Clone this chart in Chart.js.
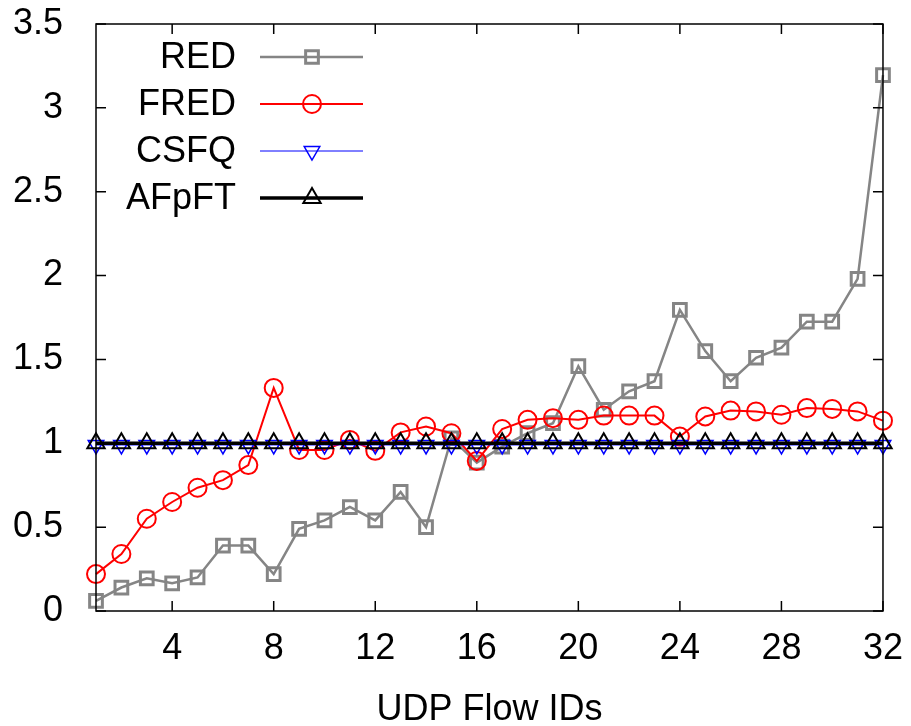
<!DOCTYPE html>
<html>
<head>
<meta charset="utf-8">
<title>UDP Flow IDs</title>
<script src="https://cdn.jsdelivr.net/npm/chart.js@4.4.1/dist/chart.umd.min.js"></script>
<style>
  html, body { margin: 0; padding: 0; background: #fff; }
  #wrap { width: 911px; height: 726px; }
</style>
</head>
<body>
<div id="wrap"><canvas id="flowChart"></canvas></div>
<script>
// flow ids 1..32
var flowIds = [];
for (let i = 1; i <= 32; i++) flowIds.push(i);

var xTicks = [4, 8, 12, 16, 20, 24, 28, 32];

var redValues = [0.06, 0.14, 0.195, 0.165, 0.20, 0.39, 0.39, 0.22, 0.49, 0.54,
    0.62, 0.54, 0.71, 0.50, 1.03, 0.885, 0.98, 1.06, 1.12, 1.46,
    1.20, 1.31, 1.37, 1.795, 1.55, 1.37, 1.51, 1.57, 1.725, 1.725,
    1.98, 3.195];
var fredValues = [0.22, 0.34, 0.55, 0.65, 0.735, 0.78, 0.87, 1.33, 0.96, 0.96,
    1.02, 0.955, 1.065, 1.10, 1.06, 0.895, 1.085, 1.14, 1.15, 1.14,
    1.165, 1.165, 1.165, 1.04, 1.16, 1.195, 1.19, 1.17, 1.21, 1.205,
    1.19, 1.135];
var csfqValues = [0.99, 0.99, 0.99, 0.99, 0.99, 0.99, 0.99, 0.99, 0.99, 0.99,
    0.99, 0.99, 0.99, 0.99, 0.99, 0.99, 0.99, 0.99, 0.99, 0.99,
    0.99, 0.99, 0.99, 0.99, 0.99, 0.99, 0.99, 0.99, 0.99, 0.99,
    0.99, 0.99];
var afpftValues = [1, 1, 1, 1, 1, 1, 1, 1, 1, 1,
    1, 1, 1, 1, 1, 1, 1, 1, 1, 1,
    1, 1, 1, 1, 1, 1, 1, 1, 1, 1,
    1, 1];

function toPoints(vals) {
    return vals.map(function (v, i) { return { x: flowIds[i], y: v }; });
}

var FONT = "'Liberation Sans', Arial, Helvetica, sans-serif";

// gnuplot-like frame with inward ticks on all four sides
var framePlugin = {
    id: "frame",
    afterDraw: function (chart) {
        var ctx = chart.ctx, a = chart.chartArea;
        var xs = chart.scales.x, ys = chart.scales.y;
        ctx.save();
        ctx.strokeStyle = "#000";
        ctx.lineWidth = 1.5;
        ctx.strokeRect(a.left, a.top, a.right - a.left, a.bottom - a.top);
        ctx.beginPath();
        xs.ticks.forEach(function (t) {
            var px = xs.getPixelForValue(t.value);
            ctx.moveTo(px, a.bottom); ctx.lineTo(px, a.bottom - 10);
            ctx.moveTo(px, a.top); ctx.lineTo(px, a.top + 10);
        });
        ys.ticks.forEach(function (t) {
            var py = ys.getPixelForValue(t.value);
            ctx.moveTo(a.left, py); ctx.lineTo(a.left + 10, py);
            ctx.moveTo(a.right, py); ctx.lineTo(a.right - 10, py);
        });
        ctx.stroke();
        ctx.restore();
    }
};

// legend inside the plot: text right aligned, sample line + marker on the right
var keyPlugin = {
    id: "key",
    afterDraw: function (chart) {
        var ctx = chart.ctx;
        ctx.save();
        chart.data.datasets.forEach(function (ds, i) {
            var y = 57 + i * 47;
            ctx.fillStyle = "#000";
            ctx.font = "36px " + FONT;
            ctx.textAlign = "right";
            ctx.textBaseline = "middle";
            ctx.fillText(ds.label, 236, y + 1);
            ctx.strokeStyle = ds.borderColor;
            ctx.lineWidth = ds.borderWidth;
            ctx.beginPath();
            ctx.moveTo(260, y);
            ctx.lineTo(363, y);
            ctx.stroke();
            ctx.lineWidth = ds.pointBorderWidth;
            ctx.fillStyle = "rgba(0,0,0,0)";
            Chart.helpers.drawPoint(ctx, {
                pointStyle: ds.pointStyle,
                radius: ds.pointRadius,
                rotation: ds.pointRotation || 0,
                borderWidth: ds.pointBorderWidth
            }, 312, y);
        });
        ctx.restore();
    }
};

var ctx = document.getElementById("flowChart").getContext("2d");
var chart = new Chart(ctx, {
    type: "line",
    data: {
        datasets: [
            {
                label: "RED",
                data: toPoints(redValues),
                borderColor: "#858585",
                borderWidth: 2.5,
                pointStyle: "rect",
                pointRadius: 9,
                pointBorderWidth: 3,
                pointBackgroundColor: "rgba(0,0,0,0)",
                order: 4
            },
            {
                label: "FRED",
                data: toPoints(fredValues),
                borderColor: "#ff0000",
                borderWidth: 2,
                pointStyle: "circle",
                pointRadius: 9,
                pointBorderWidth: 2,
                pointBackgroundColor: "rgba(0,0,0,0)",
                order: 3
            },
            {
                label: "CSFQ",
                data: toPoints(csfqValues),
                borderColor: "#0000ff",
                borderWidth: 1,
                pointStyle: "triangle",
                pointRotation: 180,
                pointRadius: 9,
                pointBorderWidth: 1.5,
                pointBackgroundColor: "rgba(0,0,0,0)",
                order: 2
            },
            {
                label: "AFpFT",
                data: toPoints(afpftValues),
                borderColor: "#000000",
                borderWidth: 3.5,
                pointStyle: "triangle",
                pointRadius: 10,
                pointBorderWidth: 2,
                pointBackgroundColor: "rgba(0,0,0,0)",
                order: 1
            }
        ]
    },
    options: {
        responsive: true,
        maintainAspectRatio: false,
        animation: false,
        clip: false,
        layout: { padding: { left: 0, right: 22, top: 24, bottom: 0 } },
        elements: { line: { tension: 0 } },
        plugins: {
            legend: { display: false },
            tooltip: { enabled: false }
        },
        scales: {
            x: {
                type: "linear",
                min: 1,
                max: 32,
                afterBuildTicks: function (scale) {
                    scale.ticks = xTicks.map(function (v) { return { value: v }; });
                },
                afterFit: function (scale) { scale.height = 115; },
                grid: { display: false },
                border: { display: false },
                ticks: {
                    color: "#000",
                    padding: 8,
                    maxRotation: 0,
                    autoSkip: false,
                    font: { family: FONT, size: 36 }
                },
                title: {
                    display: true,
                    text: "UDP Flow IDs",
                    color: "#000",
                    padding: { top: 0, bottom: -6 },
                    font: { family: FONT, size: 36 }
                }
            },
            y: {
                min: 0,
                max: 3.5,
                afterFit: function (scale) {
                    scale.width = 96;
                    scale.paddingTop = 0;
                    scale.paddingBottom = 0;
                },
                grid: { display: false },
                border: { display: false },
                ticks: {
                    stepSize: 0.5,
                    color: "#000",
                    padding: 25,
                    font: { family: FONT, size: 36 },
                    callback: function (v) { return String(v); }
                }
            }
        }
    },
    plugins: [framePlugin, keyPlugin]
});
</script>
</body>
</html>
